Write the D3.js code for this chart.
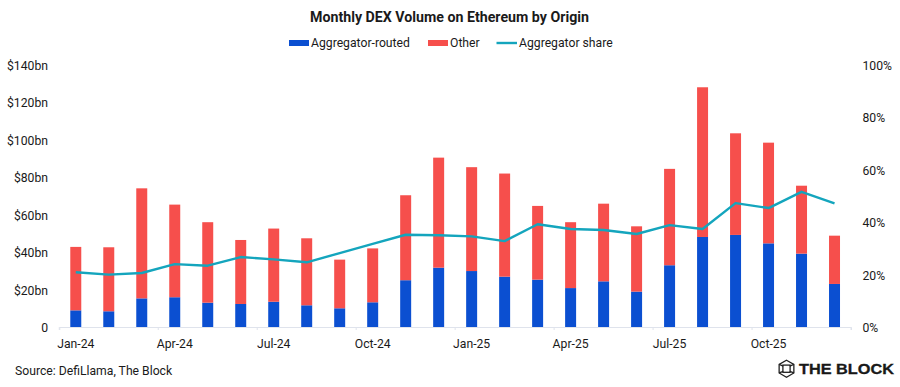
<!DOCTYPE html>
<html>
<head>
<meta charset="utf-8">
<script src="https://cdn.jsdelivr.net/npm/d3@7/dist/d3.min.js"></script>
<style>
html,body{margin:0;padding:0;background:#fff;}
svg{display:block;}
text{font-family:Roboto,sans-serif;fill:#1a1a1a;}
</style>
</head>
<body>
<svg id="chart" width="900" height="387"></svg>
<script>
const months = ["Jan-24","Feb-24","Mar-24","Apr-24","May-24","Jun-24","Jul-24","Aug-24","Sep-24","Oct-24","Nov-24","Dec-24","Jan-25","Feb-25","Mar-25","Apr-25","May-25","Jun-25","Jul-25","Aug-25","Sep-25","Oct-25","Nov-25","Dec-25"];
const labelledMonths = ["Jan-24","Apr-24","Jul-24","Oct-24","Jan-25","Apr-25","Jul-25","Oct-25"];
const aggregatorRouted = [8.9,8.4,15.3,15.9,13,12.3,13.5,11.6,10,13.2,25,31.7,29.9,26.9,25.3,20.8,24.4,18.9,33,48.1,49.2,44.7,39.2,23];
const totalVolume = [42.8,42.6,74.1,65.4,56,46.5,52.6,47.4,36,42,70.4,90.5,85.4,82,64.7,56,65.9,53.8,84.5,128.1,103.5,98.5,75.5,48.8];
const other = totalVolume.map((t,i)=>t-aggregatorRouted[i]);
const aggregatorShare = [20.9,20,20.6,24,23.4,26.7,25.8,24.7,28.2,31.7,35.2,35,34.6,32.8,39.2,37.4,37,35.5,38.9,37.4,47.3,45.4,51.6,47.2];
const leftTicks = [0,20,40,60,80,100,120,140];
const rightTicks = [0,20,40,60,80,100];

const colors = {blue:"#0b4fd1", red:"#f64f4c", teal:"#14a5bd", axis:"#dfe3ec"};
const labelSize = 12.2;
const svg = d3.select("#chart");
const plot = {left:59.3,right:851,top:65,bottom:327};

const x = d3.scaleBand().domain(months).range([plot.left,plot.right]).paddingInner(0.667).paddingOuter(0.333);
const yL = d3.scaleLinear().domain([0,140]).range([plot.bottom,plot.top]);
const yR = d3.scaleLinear().domain([0,100]).range([plot.bottom,plot.top]);
const step = x.step();

svg.append("text").attr("x",449.5).attr("y",22).attr("text-anchor","middle")
  .attr("font-size",14.2).attr("font-weight",700).attr("fill","#111").text("Monthly DEX Volume on Ethereum by Origin");

// bars
const stack = d3.stack().keys(["a","o"])(months.map((m,i)=>({m,a:aggregatorRouted[i],o:other[i]})));
svg.append("g").selectAll("g").data(stack).join("g")
  .attr("fill",(d,i)=>i===0?colors.blue:colors.red)
  .selectAll("rect").data(d=>d).join("rect")
  .attr("x",d=>x(d.data.m)).attr("width",x.bandwidth())
  .attr("y",d=>yL(d[1])).attr("height",d=>yL(d[0])-yL(d[1]));

// x axis
const xAxis = svg.append("g").attr("transform",`translate(0,${plot.bottom})`)
  .call(d3.axisBottom(x).tickValues(labelledMonths).tickSizeOuter(0).tickSize(3).tickPadding(9));
xAxis.select(".domain").attr("stroke",colors.axis).attr("stroke-width",1);
xAxis.selectAll(".tick line").attr("stroke",colors.axis).attr("transform",`translate(${-step/2},0)`);
xAxis.selectAll(".tick text").attr("font-size",labelSize).attr("font-family","Roboto,sans-serif").attr("fill","#1a1a1a");
svg.append("line").attr("x1",plot.right).attr("x2",plot.right).attr("y1",plot.bottom).attr("y2",plot.bottom+3).attr("stroke",colors.axis);

// left axis
const fmtL = d=>d===0?"0":`$${d}bn`;
const lAxis = svg.append("g").attr("transform",`translate(48,0.6)`)
  .call(d3.axisLeft(yL).tickValues(leftTicks).tickFormat(fmtL).tickSize(0).tickPadding(0));
lAxis.select(".domain").remove();
lAxis.selectAll("text").attr("font-size",labelSize).attr("font-family","Roboto,sans-serif").attr("fill","#1a1a1a");

// right axis
const rAxis = svg.append("g").attr("transform",`translate(862.5,0.6)`)
  .call(d3.axisRight(yR).tickValues(rightTicks).tickFormat(d=>d+"%").tickSize(0).tickPadding(0));
rAxis.select(".domain").remove();
rAxis.selectAll("text").attr("font-size",labelSize).attr("font-family","Roboto,sans-serif").attr("fill","#1a1a1a");

// share line
const line = d3.line().x((d,i)=>x(months[i])+x.bandwidth()/2).y(d=>yR(d));
svg.append("path").datum(aggregatorShare).attr("d",line).attr("fill","none")
  .attr("stroke",colors.teal).attr("stroke-width",2.4).attr("stroke-linejoin","round");

// legend
const lg = svg.append("g");
lg.append("rect").attr("x",289).attr("y",40).attr("width",20).attr("height",6).attr("fill",colors.blue);
lg.append("text").attr("x",311).attr("y",47).attr("font-size",labelSize).text("Aggregator-routed");
lg.append("rect").attr("x",428).attr("y",40).attr("width",20).attr("height",6).attr("fill",colors.red);
lg.append("text").attr("x",450).attr("y",47).attr("font-size",labelSize).text("Other");
lg.append("line").attr("x1",496.5).attr("x2",517).attr("y1",43).attr("y2",43).attr("stroke",colors.teal).attr("stroke-width",2.4);
lg.append("text").attr("x",519).attr("y",47).attr("font-size",labelSize).text("Aggregator share");

// source
svg.append("text").attr("x",15).attr("y",374.5).attr("font-size",labelSize).text("Source: DefiLlama, The Block");

// logo
const logo = svg.append("g").attr("transform","translate(786.5,368.7)").attr("fill","none").attr("stroke","#222").attr("stroke-width",1.3);
const hexR = 8.5;
const hex = d3.range(6).map(i=>{const a=Math.PI/3*i-Math.PI/2;return [hexR*Math.cos(a),hexR*Math.sin(a)];});
logo.append("path").attr("d",d3.line()(hex)+"Z");
logo.append("rect").attr("x",-3.6).attr("y",-3.6).attr("width",7.2).attr("height",7.2);
hex.filter((d,i)=>i!==0&&i!==3).forEach(p=>logo.append("line").attr("x1",p[0]).attr("y1",p[1]).attr("x2",p[0]*0.45).attr("y2",p[1]*0.62));
svg.append("text").attr("x",799).attr("y",374.3).attr("font-size",15.5).attr("font-weight",700)
  .attr("textLength",95).attr("lengthAdjust","spacingAndGlyphs")
  .style("font-family","'Liberation Sans',sans-serif").style("stroke","#111").style("stroke-width","0.3").attr("fill","#111").text("THE BLOCK");
</script>
</body>
</html>
